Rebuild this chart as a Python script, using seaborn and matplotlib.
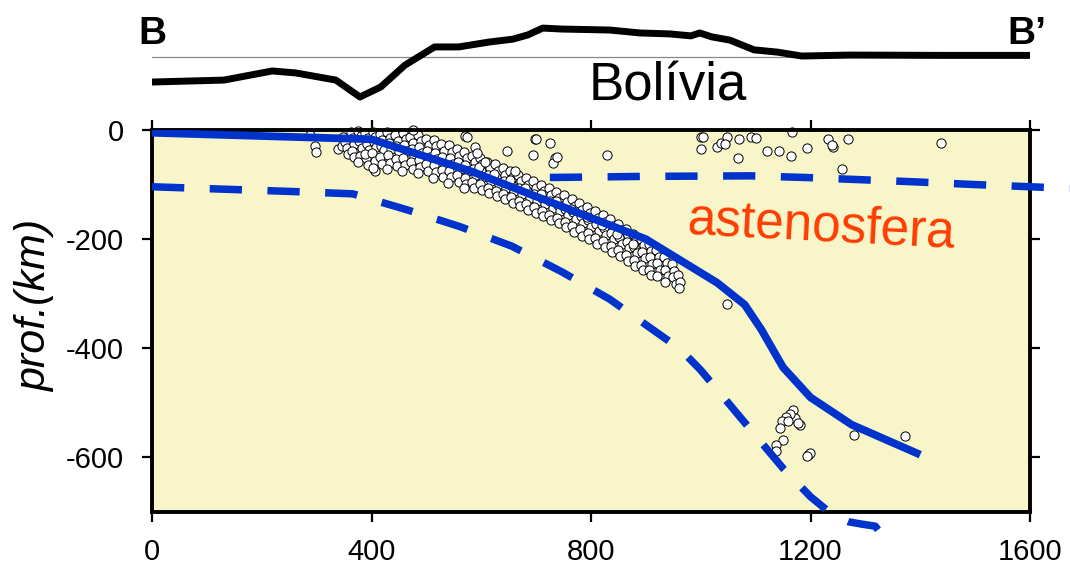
import numpy as np
import matplotlib
matplotlib.use("Agg")
import matplotlib.pyplot as plt
import seaborn as sns

# ---------------- data ----------------
# topography along profile B-B' (km along profile, elevation km)
topo_km = [0, 131, 219, 262, 335, 379, 417, 461, 515, 559, 614, 658, 685, 712, 747, 834,
           889, 944, 982, 998, 1020, 1053, 1097, 1140, 1184, 1273, 1437, 1601]
topo_elev = [-3.85, -3.55, -2.15, -2.45, -3.55, -6.15, -4.6, -1.25, 1.55, 1.55, 2.3, 2.75,
             3.4, 4.45, 4.3, 4.15, 3.7, 3.55, 3.25, 3.7, 3.1, 2.6, 1.1, 0.75, 0.15, 0.3,
             0.25, 0.25]

# top of the slab (solid line)
slab_top_km = [0, 400, 580, 900, 1030, 1080, 1110, 1150, 1200, 1275, 1400]
slab_top_depth = [5, 17, 75, 200, 280, 320, 365, 435, 490, 540, 595]

# base of the slab (dashed line)
slab_base_km = [0, 264, 366, 464, 561, 656, 747, 834, 962, 1000, 1050, 1100, 1150,
                1200, 1240, 1270, 1292, 1318, 1332]
slab_base_depth = [104, 113, 117, 146, 177, 213, 260, 310, 401, 440, 500, 560, 620,
                   672, 705, 718, 722, 726, 745]

# top of the asthenosphere (dashed line)
asth_km = [725, 900, 1090, 1190, 1290, 1390, 1500, 1600, 1672]
asth_depth = [87, 85, 84, 87, 91, 95, 100, 104, 107]

# earthquake hypocentres (km along profile, depth km)
eq_km = [
    288, 297, 299, 339, 346, 364, 364, 406,
    348, 352, 355, 357,
    362, 366, 368, 364, 369,
    375, 380, 377, 382, 379, 376,
    389, 394, 391, 396, 390, 393, 388,
    402, 407, 404, 409, 401, 406, 403,
    415, 420, 417, 422, 416, 419,
    429, 434, 431, 436, 430, 433, 428,
    443, 448, 445, 450, 444, 447,
    457, 462, 459, 464, 458, 461, 456,
    471, 476, 473, 478, 472, 475,
    485, 490, 487, 492, 486, 489, 484,
    499, 504, 501, 506, 500, 503,
    513, 518, 515, 520, 514, 517, 512,
    527, 532, 529, 534, 528, 531,
    541, 546, 543, 548, 542, 545, 540,
    555, 560, 557, 562, 556, 559,
    569, 574, 571, 576, 570, 573, 568,
    583, 588, 585, 590, 584, 587,
    597, 602, 599, 604, 598, 601, 596,
    611, 616, 613, 618, 612, 615,
    625, 630, 627, 632, 626, 629, 624,
    639, 644, 641, 646, 640, 643,
    653, 658, 655, 660, 654, 657, 652,
    667, 672, 669, 674, 668, 671,
    681, 686, 683, 688, 682, 685, 680,
    695, 700, 697, 702, 696, 699,
    709, 714, 711, 716, 710, 713, 708,
    723, 728, 725, 730, 724, 727,
    737, 742, 739, 744, 738, 741, 736,
    751, 756, 753, 758, 752, 755,
    765, 770, 767, 772, 766, 769, 764,
    779, 784, 781, 786, 780, 783,
    793, 798, 795, 800, 794, 797, 792,
    807, 812, 809, 814, 808, 811,
    821, 826, 823, 828, 822, 825, 820,
    835, 840, 837, 842, 836, 839,
    849, 854, 851, 856, 850, 853, 848,
    863, 868, 865, 870, 864, 867,
    877, 882, 879, 884, 878, 881, 876,
    891, 896, 893, 898, 892, 895,
    905, 910, 907, 912, 906, 909,
    919, 924, 921, 926, 920,
    933, 938, 935, 940, 934,
    947, 952, 949, 954,
    958, 962, 960,
    475, 570, 588, 574, 592, 607, 647, 661, 694, 698, 700, 725, 734, 730, 738, 829,
    1000, 1004, 1000, 1029, 1036, 1047, 1044, 1069, 1068, 1091, 1100, 1120, 1142,
    1164, 1167, 1193, 1231, 1241, 1240, 1268, 1257, 1437,
    1047, 1279, 1372,
    1168, 1171, 1162, 1156, 1148, 1144, 1159, 1180, 1178, 1150, 1138, 1137, 1195,
    1199, 1193,
]
eq_depth = [
    9, 29, 40, 35, 29, 31, 9, 75,
    12, 22, 33, 44,
    4, 14, 26, 38, 50,
    2, 11, 21, 33, 47, 58,
    6, 15, 25, 37, 52, 64, 44,
    3, 12, 22, 31, 43, 57, 70,
    8, 18, 29, 37, 50, 63,
    4, 14, 24, 35, 46, 60, 72,
    10, 20, 30, 41, 53, 66,
    6, 17, 27, 39, 51, 64, 75,
    13, 23, 35, 47, 59, 71,
    9, 20, 31, 43, 55, 67, 79,
    16, 27, 38, 50, 62, 75,
    19, 30, 42, 53, 65, 77, 88,
    26, 38, 50, 62, 74, 86,
    28, 40, 52, 63, 75, 87, 97,
    35, 47, 59, 71, 83, 95,
    40, 52, 64, 76, 88, 99, 106,
    47, 59, 71, 83, 95, 107,
    51, 63, 75, 87, 99, 110, 68,
    58, 70, 82, 94, 106, 116,
    63, 75, 87, 99, 111, 121, 80,
    70, 82, 94, 106, 118, 127,
    75, 87, 99, 111, 123, 133, 92,
    82, 94, 106, 118, 130, 140,
    88, 100, 112, 124, 136, 146, 106,
    94, 106, 118, 130, 142, 152,
    100, 112, 124, 136, 148, 158, 118,
    107, 119, 131, 143, 155, 165,
    113, 125, 137, 149, 161, 171, 131,
    120, 132, 144, 156, 168, 178,
    127, 139, 151, 163, 175, 186, 145,
    134, 146, 158, 170, 182, 194,
    141, 153, 165, 177, 189, 200, 159,
    149, 161, 173, 185, 197, 208,
    156, 168, 180, 192, 204, 215, 174,
    164, 176, 188, 200, 212, 223,
    172, 184, 196, 208, 220, 231, 190,
    181, 193, 205, 217, 229, 240,
    190, 202, 214, 226, 238, 249, 208,
    199, 211, 223, 235, 247, 257,
    209, 221, 233, 245, 257, 266,
    220, 232, 244, 256, 268,
    232, 244, 256, 268, 278,
    246, 258, 270, 282,
    266, 279, 290,
    0, 11, 31, 13, 43, 58, 38, 76, 46, 16, 16, 24, 51, 60, 50, 46,
    13, 13, 35, 31, 24, 13, 26, 16, 51, 13, 15, 38, 38,
    47, 4, 33, 16, 31, 27, 16, 71, 24,
    319, 559, 561,
    513, 528, 521, 525, 534, 546, 534, 540, 536, 568, 577, 588, 596,
    592, 598,
]

x_ticks = [0, 400, 800, 1200, 1600]
y_ticks = [0, -200, -400, -600]

# ---------------- style ----------------
sns.set_theme(style="white")
plt.rcParams["font.family"] = ["Liberation Sans", "DejaVu Sans"]

BLUE = "#0033cc"
BG = "#f8f5c9"
W, H = 1070, 576

fig = plt.figure(figsize=(W / 100, H / 100), dpi=100)
ax = fig.add_axes([152 / W, 64 / H, 878 / W, 382 / H])
axt = fig.add_axes([152 / W, 461 / H, 878 / W, 105 / H])

# ---------------- main section ----------------
ax.set_facecolor(BG)
eq = {"km": np.array(eq_km, float), "prof": -np.array(eq_depth, float)}
sns.scatterplot(x=eq["km"], y=eq["prof"], ax=ax, s=44, color="white",
                edgecolor="black", linewidth=0.7, zorder=3, clip_on=False, legend=False)

sns.lineplot(x=slab_top_km, y=-np.array(slab_top_depth, float), ax=ax, sort=False,
             estimator=None, color=BLUE, lw=5.6, zorder=4, solid_capstyle="butt")
sns.lineplot(x=slab_base_km, y=-np.array(slab_base_depth, float), ax=ax, sort=False,
             estimator=None, color=BLUE, lw=5.4, zorder=4, clip_on=False,
             linestyle=(0, (4.3, 3.4)))
sns.lineplot(x=asth_km, y=-np.array(asth_depth, float), ax=ax, sort=False,
             estimator=None, color=BLUE, lw=5.4, zorder=4, clip_on=False,
             linestyle=(0, (4.3, 3.4)))

ax.text(1220, -178, "astenosfera", color="#ff3c00", fontsize=37, rotation=-3,
        ha="center", va="center", rotation_mode="anchor")

ax.set_xlim(0, 1600)
ax.set_ylim(-700, 0)
ax.set_xticks(x_ticks)
ax.set_yticks(y_ticks)
ax.set_xticklabels([str(v) for v in x_ticks])
ax.set_yticklabels([str(v) for v in y_ticks])
for sp in ax.spines.values():
    sp.set_visible(True)
    sp.set_color("black")
    sp.set_linewidth(2.8)
    sp.set_zorder(3.5)
ax.tick_params(direction="out", length=7, width=1.6, color="black",
               top=True, right=True, bottom=True, left=True,
               labelsize=21, labelcolor="black")
ax.tick_params(axis="x", pad=12)
ax.tick_params(axis="y", pad=13)
ax.set_xlabel("")
ax.set_ylabel("prof.(km)", fontsize=31, style="italic", color="black")
ax.yaxis.set_label_coords(-0.11, 0.54)
ax.grid(False)

# ---------------- topography panel ----------------
axt.set_xlim(0, 1600)
axt.set_ylim(-8.92, 7.23)
axt.axhline(0, color="#888888", lw=0.9, zorder=1)
sns.lineplot(x=topo_km, y=topo_elev, ax=axt, sort=False, estimator=None,
             color="black", lw=5.0, zorder=2)
axt.axis("off")
axt.text(-25, 3.6, "B", fontsize=28, fontweight="bold", ha="left", va="center",
         color="black", clip_on=False)
axt.text(1630, 3.6, "B\u2019", fontsize=28, fontweight="bold", ha="right",
         va="center", color="black", clip_on=False)
axt.text(940, -4.6, "Bolívia", fontsize=38, ha="center", va="center",
         color="black", clip_on=False)

fig.savefig("out.png", dpi=100, facecolor="white")
